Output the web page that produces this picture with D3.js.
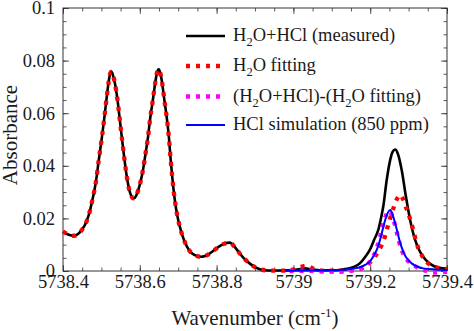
<!DOCTYPE html>
<html>
<head>
<meta charset="utf-8">
<script src="https://cdn.jsdelivr.net/npm/d3@7"></script>
<style>
  body { margin: 0; background: #fff; }
  svg text { font-family: "Liberation Serif", "Times New Roman", "DejaVu Serif", serif !important; fill: #1a1a1a; }
</style>
</head>
<body>
<div id="chart"></div>
<script>
// axis ticks
var xTickValues = [5738.4, 5738.6, 5738.8, 5739.0, 5739.2, 5739.4];
var xTickLabels = ["5738.4", "5738.6", "5738.8", "5739", "5739.2", "5739.4"];
var yTickValues = [0, 0.02, 0.04, 0.06, 0.08, 0.1];
var yTickLabels = ["0", "0.02", "0.04", "0.06", "0.08", "0.1"];

// part of the spectrum where measured and H2O fitting coincide
var overlapWn = [5738.400, 5738.415, 5738.429, 5738.440, 5738.449, 5738.462, 5738.470, 5738.476, 5738.482, 5738.487,
  5738.493, 5738.501, 5738.508, 5738.514, 5738.519, 5738.523, 5738.526, 5738.530, 5738.535, 5738.542,
  5738.548, 5738.554, 5738.560, 5738.566, 5738.572, 5738.578, 5738.584, 5738.590, 5738.596, 5738.603,
  5738.609, 5738.615, 5738.621, 5738.627, 5738.634, 5738.640, 5738.645, 5738.649, 5738.653, 5738.657,
  5738.664, 5738.671, 5738.676, 5738.680, 5738.684, 5738.688, 5738.693, 5738.700, 5738.708, 5738.717,
  5738.728, 5738.742, 5738.760, 5738.775, 5738.790, 5738.805, 5738.820, 5738.835, 5738.845, 5738.857,
  5738.870, 5738.885, 5738.900, 5738.915, 5738.935];
var overlapAbs = [0.0150, 0.0138, 0.0134, 0.0142, 0.0156, 0.0191, 0.0228, 0.0267, 0.0308, 0.0352,
  0.0420, 0.0505, 0.0587, 0.0663, 0.0720, 0.0752, 0.0758, 0.0745, 0.0715, 0.0650,
  0.0574, 0.0498, 0.0425, 0.0360, 0.0312, 0.0285, 0.0276, 0.0285, 0.0308, 0.0346,
  0.0390, 0.0447, 0.0505, 0.0580, 0.0650, 0.0714, 0.0755, 0.0767, 0.0755, 0.0726,
  0.0650, 0.0574, 0.0505, 0.0430, 0.0365, 0.0308, 0.0251, 0.0194, 0.0149, 0.0111,
  0.0080, 0.0061, 0.0054, 0.0060, 0.0075, 0.0092, 0.0104, 0.0108, 0.0095, 0.0073,
  0.0050, 0.0030, 0.0015, 0.0006, 0.0002];

// H2O+HCl measured, after the overlap
var measuredWn = [5738.960, 5738.985, 5739.010, 5739.030, 5739.048, 5739.070, 5739.100, 5739.125, 5739.140, 5739.155,
  5739.173, 5739.186, 5739.199, 5739.210, 5739.221, 5739.228, 5739.234, 5739.243, 5739.251, 5739.258,
  5739.265, 5739.272, 5739.282, 5739.293, 5739.304, 5739.317, 5739.328, 5739.338, 5739.350, 5739.364,
  5739.380, 5739.400];
var measuredAbs = [0.0002, 0.0003, 0.0006, 0.0010, 0.0006, 0.0003, 0.0003, 0.0005, 0.0008, 0.0014,
  0.0029, 0.0052, 0.0080, 0.0118, 0.0156, 0.0200, 0.0245, 0.0346, 0.0415, 0.0452,
  0.0462, 0.0446, 0.0384, 0.0283, 0.0194, 0.0118, 0.0078, 0.0054, 0.0034, 0.0020,
  0.0012, 0.0008];

// H2O fitting, after the overlap
var fitWn = [5738.960, 5738.990, 5739.010, 5739.025, 5739.035, 5739.046, 5739.060, 5739.080, 5739.110, 5739.150,
  5739.165, 5739.180, 5739.191, 5739.202, 5739.212, 5739.221, 5739.230, 5739.237, 5739.243, 5739.252,
  5739.262, 5739.270, 5739.278, 5739.285, 5739.291, 5739.302, 5739.312, 5739.321, 5739.334, 5739.351,
  5739.377, 5739.400];
var fitAbs = [0.0001, 0.0003, 0.0010, 0.0018, 0.0020, 0.0013, 0.0005, 0.0001, 0.0001, 0.0002,
  0.0005, 0.0012, 0.0023, 0.0036, 0.0054, 0.0075, 0.0099, 0.0125, 0.0156, 0.0200,
  0.0245, 0.0275, 0.0289, 0.0275, 0.0251, 0.0207, 0.0156, 0.0105, 0.0061, 0.0029,
  0.0012, 0.0008];

// (H2O+HCl)-(H2O fitting)
var diffWn = [5738.990, 5739.040, 5739.080, 5739.121, 5739.160, 5739.180, 5739.191, 5739.200, 5739.208, 5739.218,
  5739.227, 5739.234, 5739.241, 5739.248, 5739.255, 5739.262, 5739.271, 5739.279, 5739.286, 5739.293,
  5739.312, 5739.338, 5739.369, 5739.400];
var diffAbs = [0.0000, 0.0001, -0.0002, -0.0003, 0.0004, 0.0012, 0.0023, 0.0036, 0.0054, 0.0092,
  0.0137, 0.0181, 0.0212, 0.0228, 0.0218, 0.0188, 0.0137, 0.0092, 0.0066, 0.0048,
  0.0023, 0.0004, -0.0006, -0.0003];

// HCl simulation (850 ppm)
var hclWn = [5738.980, 5739.050, 5739.100, 5739.121, 5739.150, 5739.173, 5739.188, 5739.199, 5739.208, 5739.217,
  5739.224, 5739.230, 5739.239, 5739.246, 5739.252, 5739.258, 5739.265, 5739.271, 5739.276, 5739.282,
  5739.288, 5739.297, 5739.308, 5739.322, 5739.338, 5739.370, 5739.400];
var hclAbs = [0.0001, 0.0002, 0.0003, 0.0004, 0.0008, 0.0014, 0.0024, 0.0036, 0.0055, 0.0080,
  0.0110, 0.0143, 0.0194, 0.0222, 0.0232, 0.0215, 0.0181, 0.0148, 0.0118, 0.0090,
  0.0067, 0.0045, 0.0029, 0.0017, 0.0010, 0.0006, 0.0004];

function pairs(wn, ab) { return wn.map(function(w, i) { return [w, ab[i]]; }); }

var series = [
  { name: [["H"], ["2", "sub"], ["O+HCl (measured)"]], data: pairs(overlapWn.concat(measuredWn), overlapAbs.concat(measuredAbs)),
    color: "#000000", width: 2.6, dash: null },
  { name: [["H"], ["2", "sub"], ["O fitting"]], data: pairs(overlapWn.concat(fitWn), overlapAbs.concat(fitAbs)),
    color: "#ff0000", width: 4.3, dash: "4,6" },
  { name: [["(H"], ["2", "sub"], ["O+HCl)-(H"], ["2", "sub"], ["O fitting)"]], data: pairs(diffWn, diffAbs),
    color: "#ff00ff", width: 4.3, dash: "4,6" },
  { name: [["HCl simulation (850 ppm)"]], data: pairs(hclWn, hclAbs),
    color: "#0000ff", width: 2, dash: null }
];

// set the dimensions and margins of the graph
var margin = {top: 8, right: 27, bottom: 60, left: 63},
  width = 474 - margin.left - margin.right,
  height = 331 - margin.top - margin.bottom;

var svg = d3.select("#chart")
  .append("svg")
    .attr("width", 474)
    .attr("height", 331)
    .attr("font-family", "Liberation Serif, serif")
  .append("g")
    .attr("transform", "translate(" + margin.left + "," + margin.top + ")");

var x = d3.scaleLinear().domain([5738.4, 5739.4]).range([0, width]);
var y = d3.scaleLinear().domain([0, 0.1]).range([height, 0]);

var xMinor = d3.range(0, 21).map(function(i) { return 5738.4 + i * 0.05; });
var yMinor = d3.range(0, 21).map(function(i) { return i * 0.005; });

function styleAxis(g) {
  g.attr("font-family", null);
  g.selectAll(".domain").remove();
  g.selectAll("line").attr("stroke", "#333").attr("stroke-width", 0.8);
  g.selectAll("text").style("font-size", "18.5px").attr("fill", "#1a1a1a");
}

// minor ticks on all four sides
svg.append("g").attr("transform", "translate(0," + height + ")")
  .call(d3.axisBottom(x).tickValues(xMinor).tickSize(-3.5).tickFormat("")).call(styleAxis);
svg.append("g")
  .call(d3.axisTop(x).tickValues(xMinor).tickSize(-3.5).tickFormat("")).call(styleAxis);
svg.append("g")
  .call(d3.axisLeft(y).tickValues(yMinor).tickSize(-3.5).tickFormat("")).call(styleAxis);
svg.append("g").attr("transform", "translate(" + width + ",0)")
  .call(d3.axisRight(y).tickValues(yMinor).tickSize(-3.5).tickFormat("")).call(styleAxis);

// major ticks
svg.append("g").attr("transform", "translate(0," + height + ")")
  .call(d3.axisBottom(x).tickValues(xTickValues).tickSize(-6).tickPadding(4)
    .tickFormat(function(d, i) { return xTickLabels[i]; }))
  .call(styleAxis);
svg.append("g")
  .call(d3.axisTop(x).tickValues(xTickValues).tickSize(-6).tickFormat("")).call(styleAxis);
svg.append("g")
  .call(d3.axisLeft(y).tickValues(yTickValues).tickSize(-6).tickPadding(8)
    .tickFormat(function(d, i) { return yTickLabels[i]; }))
  .call(styleAxis);
svg.append("g").attr("transform", "translate(" + width + ",0)")
  .call(d3.axisRight(y).tickValues(yTickValues).tickSize(-6).tickFormat("")).call(styleAxis);

// box
svg.append("rect")
  .attr("width", width).attr("height", height)
  .attr("fill", "none").attr("stroke", "#333").attr("stroke-width", 1);

// lines
var line = d3.line()
  .x(function(d) { return x(d[0]); })
  .y(function(d) { return y(d[1]); })
  .curve(d3.curveMonotoneX);

svg.selectAll(".series")
  .data(series)
  .enter()
  .append("path")
    .attr("class", "series")
    .attr("d", function(d) { return line(d.data); })
    .attr("fill", "none")
    .attr("stroke", function(d) { return d.color; })
    .attr("stroke-width", function(d) { return d.width; })
    .attr("stroke-dasharray", function(d) { return d.dash; })
    .attr("stroke-linejoin", "round");

// legend
var legendY = [28, 58, 88.5, 117];
var legend = svg.selectAll(".legend")
  .data(series)
  .enter()
  .append("g")
    .attr("class", "legend")
    .attr("transform", function(d, i) { return "translate(123," + legendY[i] + ")"; });

legend.append("line")
  .attr("x1", 0).attr("x2", 39)
  .attr("stroke", function(d) { return d.color; })
  .attr("stroke-width", function(d) { return d.width; })
  .attr("stroke-dasharray", function(d) { return d.dash; });

legend.append("text")
  .attr("x", 47)
  .attr("y", 5)
  .style("font-size", "18.5px")
  .each(function(d) {
    var t = d3.select(this);
    var shifted = false;
    d.name.forEach(function(p) {
      var ts = t.append("tspan").text(p[0]);
      if (p[1] === "sub") {
        ts.attr("dy", 5).style("font-size", "12.5px");
        shifted = true;
      } else if (shifted) {
        ts.attr("dy", -5);
        shifted = false;
      }
    });
  });

// axis labels
var xl = svg.append("text")
  .attr("x", width / 2)
  .attr("y", height + 54)
  .attr("text-anchor", "middle")
  .style("font-size", "21px");
xl.append("tspan").text("Wavenumber (cm");
xl.append("tspan").text("-1").attr("dy", -8).style("font-size", "13px");
xl.append("tspan").text(")").attr("dy", 8);

svg.append("text")
  .attr("transform", "translate(" + (17 - margin.left) + "," + (135 - margin.top) + ") rotate(-90)")
  .attr("text-anchor", "middle")
  .style("font-size", "21px")
  .text("Absorbance");
</script>
</body>
</html>
